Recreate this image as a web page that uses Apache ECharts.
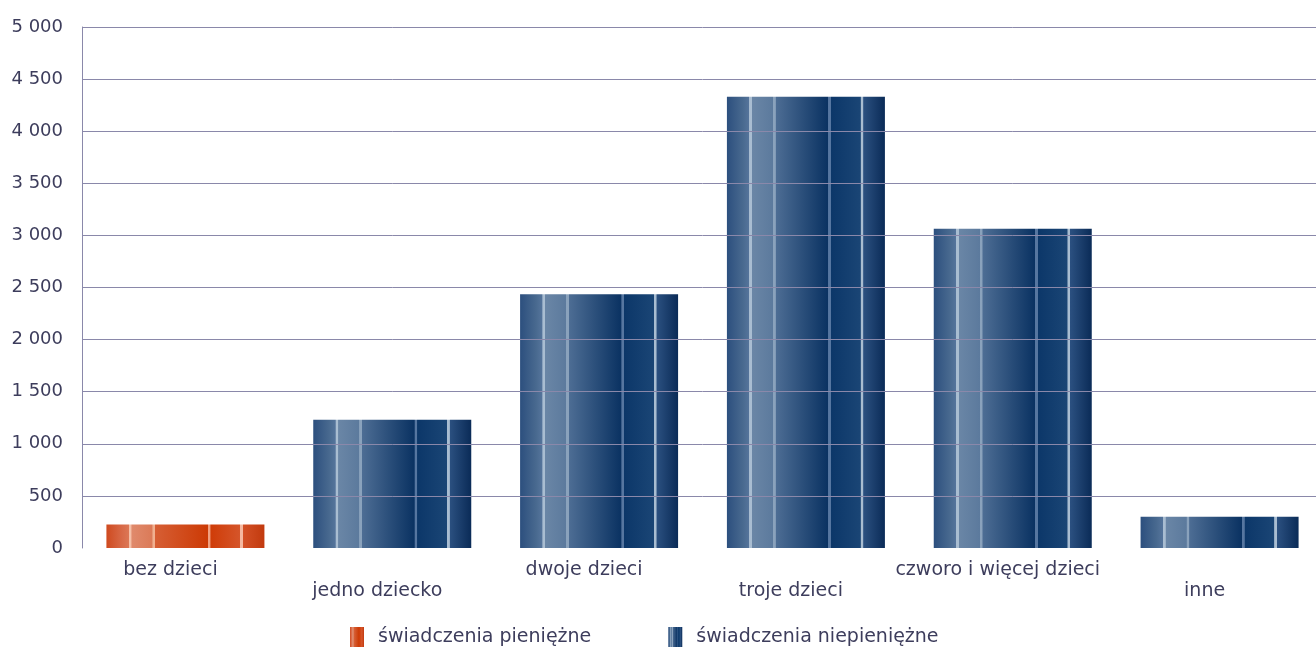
<!DOCTYPE html>
<html>
<head>
<meta charset="utf-8">
<script src="https://cdn.jsdelivr.net/npm/echarts@6/dist/echarts.min.js"></script>
<style>html,body{margin:0;padding:0;background:#fff;overflow:hidden;width:1316px;height:649px;}#c{width:1323px;height:649px;}</style>
</head>
<body>
<div id="c"></div>
<script>
const categories = ['bez dzieci', 'jedno dziecko', 'dwoje dzieci', 'troje dzieci', 'czworo i więcej dzieci', 'inne'];
const seriesNames = ['świadczenia pieniężne', 'świadczenia niepieniężne'];
const pieniezne = [225, null, null, null, null, null];
const niepieniezne = [null, 1230, 2435, 4330, 3065, 300];
const yTicks = [0, 500, 1000, 1500, 2000, 2500, 3000, 3500, 4000, 4500, 5000];

const blueGrad = new echarts.graphic.LinearGradient(0, 0, 1, 0, [
  {offset: 0, color: '#2c4f7e'},
  {offset: 0.10, color: '#48698f'},
  {offset: 0.140, color: '#55749b'},
  {offset: 0.143, color: '#a9bdd1'},
  {offset: 0.157, color: '#a9bdd1'},
  {offset: 0.160, color: '#6a86a6'},
  {offset: 0.290, color: '#5c7a9d'},
  {offset: 0.293, color: '#8aa2bc'},
  {offset: 0.307, color: '#8aa2bc'},
  {offset: 0.310, color: '#4d6d94'},
  {offset: 0.640, color: '#0a3262'},
  {offset: 0.643, color: '#5676a0'},
  {offset: 0.657, color: '#5676a0'},
  {offset: 0.660, color: '#0c3769'},
  {offset: 0.845, color: '#1a4575'},
  {offset: 0.848, color: '#a9bdd1'},
  {offset: 0.862, color: '#a9bdd1'},
  {offset: 0.865, color: '#2b5080'},
  {offset: 1, color: '#0a2b57'}
]);
const orangeGrad = new echarts.graphic.LinearGradient(0, 0, 1, 0, [
  {offset: 0, color: '#cf4a1f'},
  {offset: 0.10, color: '#d86a48'},
  {offset: 0.140, color: '#dc7654'},
  {offset: 0.143, color: '#f5c0a8'},
  {offset: 0.157, color: '#f5c0a8'},
  {offset: 0.160, color: '#e08a6c'},
  {offset: 0.290, color: '#db7a58'},
  {offset: 0.293, color: '#f0b090'},
  {offset: 0.307, color: '#f0b090'},
  {offset: 0.310, color: '#d65e34'},
  {offset: 0.640, color: '#cc3a05'},
  {offset: 0.643, color: '#f0a080'},
  {offset: 0.657, color: '#f0a080'},
  {offset: 0.660, color: '#cf3c08'},
  {offset: 0.845, color: '#d5552a'},
  {offset: 0.848, color: '#f5b8a0'},
  {offset: 0.862, color: '#f5b8a0'},
  {offset: 0.865, color: '#d35026'},
  {offset: 1, color: '#c23a0e'}
]);

const gridColors = yTicks.map((t, i) => i === 0 ? 'rgba(0,0,0,0)' : '#8a88aa');
const textColor = '#3d3d5c';
const font = 'DejaVu Sans';

const chart = echarts.init(document.getElementById('c'), null, {renderer: 'canvas'});
chart.setOption({
  animation: false,
  backgroundColor: '#ffffff',
  grid: {left: 82, right: 0, top: 27, bottom: 101, containLabel: false},
  legend: {
    left: 350, top: 627, padding: 0,
    itemWidth: 14, itemHeight: 20, itemGap: 77,
    icon: 'rect',
    textStyle: {color: textColor, fontFamily: font, fontSize: 19, padding: [0, 0, 0, 9]},
    data: seriesNames
  },
  xAxis: {
    type: 'category',
    data: categories,
    axisLine: {show: false},
    axisTick: {show: false},
    axisLabel: {
      interval: 0,
      color: textColor, fontFamily: font, fontSize: 19,
      lineHeight: 21, margin: 12,
      padding: [0, 30, 0, 0],
      formatter: (v, i) => (i % 2 ? '\n' + v : v)
    }
  },
  yAxis: {
    type: 'value',
    min: 0, max: 5000, interval: 500,
    z: 3,
    axisLine: {show: true, lineStyle: {color: '#8a88aa', width: 1}},
    axisTick: {show: false},
    splitLine: {show: true, lineStyle: {color: gridColors, width: 1}},
    axisLabel: {
      color: textColor, fontFamily: font, fontSize: 18, margin: 19,
      formatter: v => String(v).replace(/\B(?=(\d{3})+(?!\d))/g, ' ')
    }
  },
  series: [
    {name: seriesNames[0], type: 'bar', stack: 's', data: pieniezne, barWidth: 158, itemStyle: {color: orangeGrad}},
    {name: seriesNames[1], type: 'bar', stack: 's', data: niepieniezne, barWidth: 158, itemStyle: {color: blueGrad}}
  ]
});
</script>
</body>
</html>
